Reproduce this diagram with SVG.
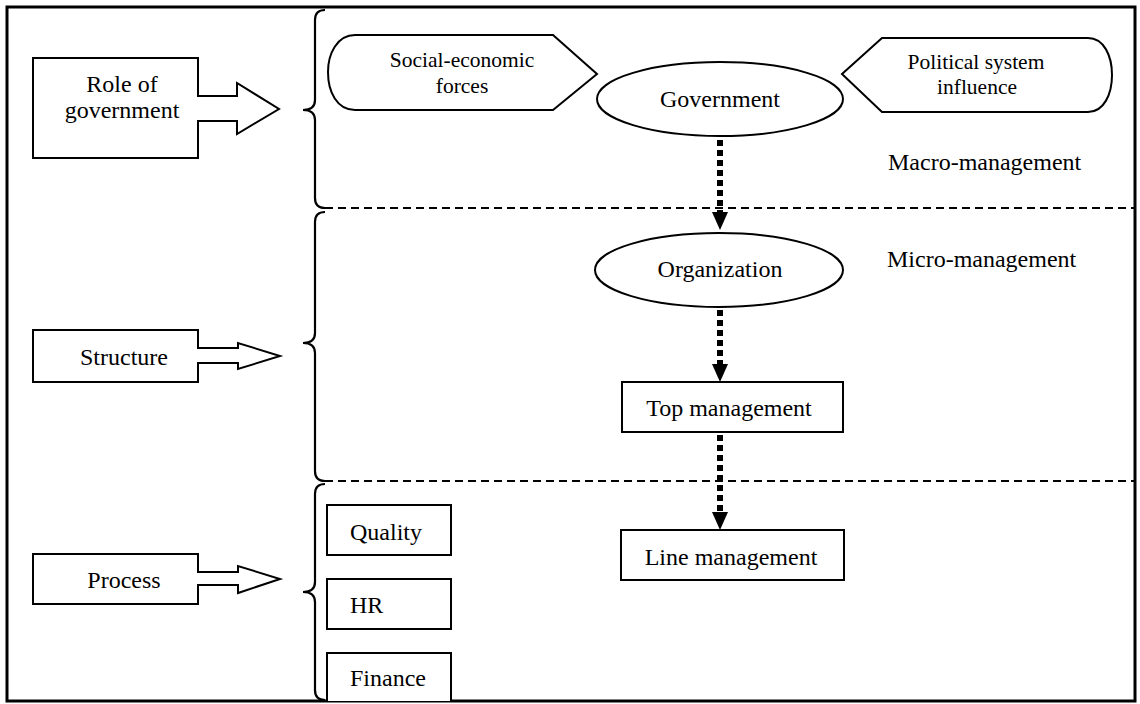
<svg xmlns="http://www.w3.org/2000/svg" width="1140" height="704" viewBox="0 0 1140 704">
<style>
  .shape { fill: #fff; stroke: #000; stroke-width: 2; }
  .brace { fill: none; stroke: #000; stroke-width: 2.2; }
  .sep { fill: none; stroke: #000; stroke-width: 2; stroke-dasharray: 8 5; }
  .dot { fill: none; stroke: #000; stroke-width: 6; stroke-dasharray: 6 4; }
  .t { font-family: "Liberation Serif", "Times New Roman", serif; font-size: 24px; fill: #000; }
  .s { font-family: "Liberation Serif", "Times New Roman", serif; font-size: 21.5px; fill: #000; }
  .c { text-anchor: middle; }
</style>
<rect x="0" y="0" width="1140" height="704" fill="#fff"/>
<rect x="7" y="7" width="1128" height="694" fill="none" stroke="#000" stroke-width="3"/>

<g id="separators">
  <line class="sep" x1="325" y1="208" x2="1135" y2="208"/>
  <line class="sep" x1="325" y1="481" x2="1135" y2="481"/>
</g>

<g id="braces">
  <path class="brace" d="M325 10 Q315 10 315 20 L315 100 Q315 110 303 110 Q315 110 315 120 L315 198 Q315 208 325 208"/>
  <path class="brace" d="M325 212 Q315 212 315 222 L315 333 Q315 343 303 343 Q315 343 315 353 L315 471 Q315 481 325 481"/>
  <path class="brace" d="M325 484 Q315 484 315 494 L315 582 Q315 592 303 592 Q315 592 315 602 L315 690 Q315 700 325 700"/>
</g>

<g id="role-of-government">
  <path class="shape" d="M33 58 L198 58 L198 96 L237 96 L237 83 L279 109 L237 134 L237 121 L198 121 L198 158 L33 158 Z"/>
  <text class="t c" x="122" y="92">Role of</text>
  <text class="t c" x="122" y="118">government</text>
</g>

<g id="structure">
  <path class="shape" d="M33 330 L198 330 L198 348 L238 348 L238 343 L280 356 L238 369 L238 363 L198 363 L198 382 L33 382 Z"/>
  <text class="t c" x="124" y="365">Structure</text>
</g>

<g id="process">
  <path class="shape" d="M33 554 L198 554 L198 572 L238 572 L238 566 L280 579 L238 593 L238 585 L198 585 L198 604 L33 604 Z"/>
  <text class="t c" x="124" y="588">Process</text>
</g>

<g id="social-economic-forces">
  <path class="shape" d="M355 35 L553 35 L597 74 L553 110 L355 110 C337 110 328 92 328 72 C328 54 337 35 355 35 Z"/>
  <text class="s c" x="462" y="67">Social-economic</text>
  <text class="s c" x="462" y="93">forces</text>
</g>

<g id="political-system-influence">
  <path class="shape" d="M842 74 L882 38 L1088 38 C1104 38 1112 56 1112 75 C1112 94 1104 112 1088 112 L882 112 Z"/>
  <text class="s c" x="976" y="69">Political system</text>
  <text class="s c" x="977" y="94">influence</text>
</g>

<g id="government">
  <ellipse class="shape" cx="720" cy="99" rx="123" ry="37"/>
  <text class="t c" x="720" y="107">Government</text>
</g>

<g id="macro-management">
  <text class="t" x="888" y="170">Macro-management</text>
</g>

<g id="micro-management">
  <text class="t" x="887" y="267">Micro-management</text>
</g>

<g id="organization">
  <ellipse class="shape" cx="719" cy="270" rx="124" ry="37"/>
  <text class="t c" x="720" y="277">Organization</text>
</g>

<g id="top-management">
  <rect class="shape" x="622" y="382" width="221" height="50"/>
  <text class="t c" x="729" y="416">Top management</text>
</g>

<g id="line-management">
  <rect class="shape" x="621" y="530" width="223" height="50"/>
  <text class="t c" x="731" y="565">Line management</text>
</g>

<g id="quality">
  <rect class="shape" x="327" y="505" width="124" height="50"/>
  <text class="t" x="350" y="540">Quality</text>
</g>

<g id="hr">
  <rect class="shape" x="327" y="579" width="124" height="50"/>
  <text class="t" x="350" y="613">HR</text>
</g>

<g id="finance">
  <path class="shape" d="M327 701 L327 653 L451 653 L451 701"/>
  <text class="t" x="350" y="686">Finance</text>
</g>

<g id="connectors">
  <line class="dot" x1="720" y1="140" x2="720" y2="212"/>
  <path d="M712 212 L728 212 L720 230 Z" fill="#000"/>
  <line class="dot" x1="720" y1="310" x2="720" y2="364"/>
  <path d="M712 364 L728 364 L720 382 Z" fill="#000"/>
  <line class="dot" x1="720" y1="435" x2="720" y2="512"/>
  <path d="M712 512 L728 512 L720 530 Z" fill="#000"/>
</g>
</svg>
